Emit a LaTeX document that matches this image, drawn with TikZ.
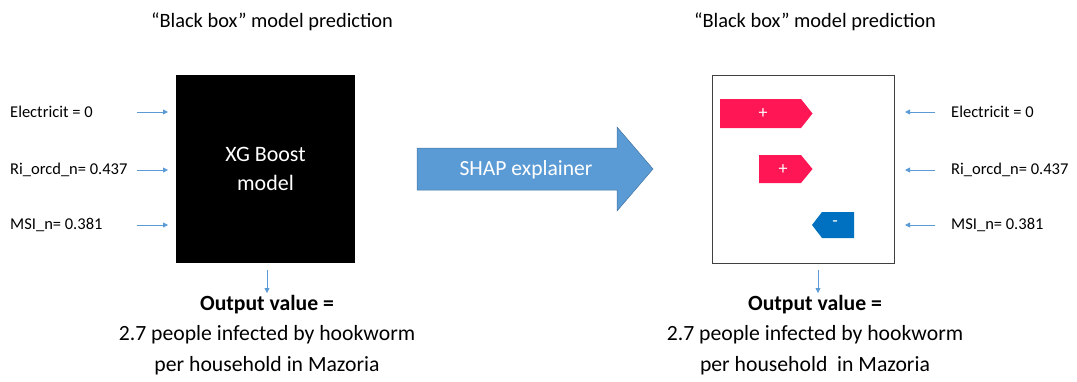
\documentclass[tikz,border=0pt]{standalone}
\usepackage{fontspec}
\setmainfont{Carlito}
\usetikzlibrary{arrows.meta,positioning}
\definecolor{featblue}{RGB}{91,155,213}
\definecolor{posred}{RGB}{255,22,84}
\definecolor{negblue}{RGB}{0,112,192}
\definecolor{framegray}{RGB}{64,64,64}
\tikzset{
    % --- estilos ---
    feat/.style={font=\fontsize{16.5}{19}\selectfont, anchor=west, inner sep=0pt},
    title/.style={font=\fontsize{20.4}{24}\selectfont, inner sep=0pt},
    outtext/.style={font=\fontsize{21.7}{30.5}\selectfont, align=center, inner sep=0pt},
    featarrow/.style={draw=featblue, line width=0.8pt, -{Triangle[length=5pt,width=5pt]}},
    tag/.style={text=white, font=\fontsize{18}{18}\selectfont, inner sep=0pt}
}

\begin{document}
\begin{tikzpicture}[x=1pt, y=-1pt]
    \useasboundingbox (0,0) rectangle (1077,381);

    % left: black box
    \node[title] (titleL) at (272,22) {``Black box'' model prediction};
    \node[fill=black, minimum width=179pt, minimum height=188pt, inner sep=0pt] (xgb) at (265.5,169) {};
    \node[text=white, font=\fontsize{22}{29}\selectfont, align=center] (xgbtext) at (xgb.center) {XG Boost\\model};

    \node[feat] (elecL) at (10,112) {Electricit = 0};
    \node[feat] (riL) at (10,170) {Ri\_orcd\_n= 0.437};
    \node[feat] (msiL) at (10,225) {MSI\_n= 0.381};
    \coordinate (elecLs) at (137,112);
    \coordinate (riLs) at (137,170);
    \coordinate (msiLs) at (137,225);
    \draw[featarrow] (elecLs) -- (168,112);
    \draw[featarrow] (riLs) -- (168,170);
    \draw[featarrow] (msiLs) -- (168,225);

    \node[outtext] (outL) at (267,335) {\textbf{Output value =}\\2.7 people infected by hookworm\\per household in Mazoria};
    \coordinate (downL) at (267,270);
    \draw[featarrow] (downL) -- (267,293);

    % middle: SHAP arrow
    \draw[fill=featblue, draw=featblue!75!black, line width=0.5pt]
        (417,148) -- (617,148) -- (617,127) -- (653,169) -- (617,211) -- (617,190) -- (417,190) -- cycle;
    \node[text=white, font=\fontsize{21.6}{24}\selectfont] (shap) at (526,170) {SHAP explainer};

    % right: explained box
    \node[title] (titleR) at (815,22) {``Black box'' model prediction};
    \node[draw=framegray, line width=1pt, minimum width=182pt, minimum height=188pt, inner sep=0pt] (shapbox) at (803,169) {};

    \fill[posred] (720,99) -- (801,99) -- (812.5,113.5) -- (801,128) -- (720,128) -- cycle;
    \node[tag] (plusA) at (763,114) {+};
    \fill[posred] (759,155) -- (801,155) -- (812.5,169) -- (801,183) -- (759,183) -- cycle;
    \node[tag] (plusB) at (783,169.5) {+};
    \fill[negblue] (812,225) -- (822,212) -- (854,212) -- (854,238) -- (822,238) -- cycle;
    \node[tag] (minusC) at (835,224) {-};

    \node[feat] (elecR) at (951,112) {Electricit = 0};
    \node[feat] (riR) at (951,170) {Ri\_orcd\_n= 0.437};
    \node[feat] (msiR) at (951,225) {MSI\_n= 0.381};
    \draw[featarrow] (elecR.west) ++(-16,0) -- ++(-30,0);
    \draw[featarrow] (riR.west) ++(-16,0) -- ++(-30,0);
    \draw[featarrow] (msiR.west) ++(-16,0) -- ++(-30,0);

    \node[outtext] (outR) at (815,335) {\textbf{Output value =}\\2.7 people infected by hookworm\\per household\ \ in Mazoria};
    \coordinate (downR) at (818,270);
    \draw[featarrow] (downR) -- (818,293);
\end{tikzpicture}
\end{document}
